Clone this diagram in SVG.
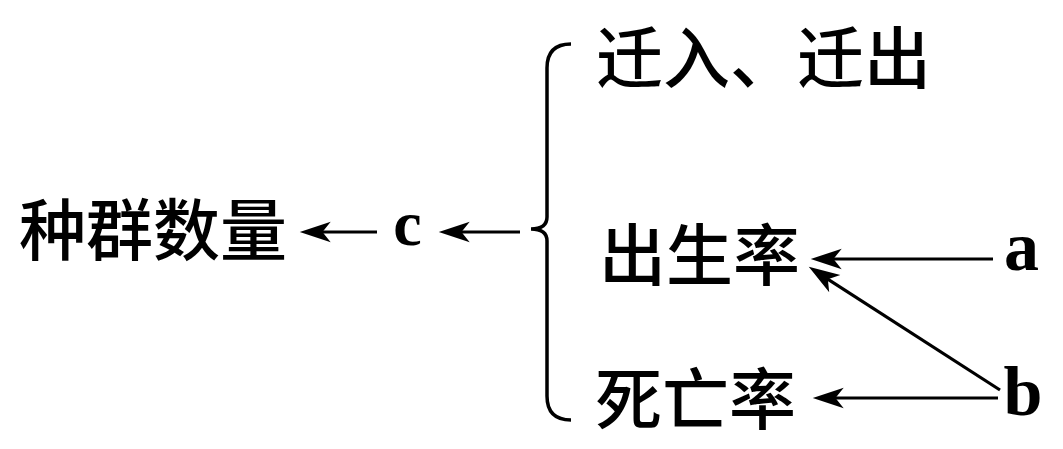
<svg xmlns="http://www.w3.org/2000/svg" width="1063" height="449" viewBox="0 0 1063 449">
  <style>
    .cjk { font-family: "Noto Sans CJK SC", "Noto Sans", sans-serif; font-size: 67px; font-weight: 500; fill: #000; }
    .lat { font-family: "Liberation Serif", "Times New Roman", serif; font-weight: bold; fill: #000; }
    .conn { stroke: #000; stroke-width: 3.2; fill: none; marker-end: url(#arrow); }
  </style>
  <defs>
    <marker id="arrow" markerUnits="userSpaceOnUse" markerWidth="32" markerHeight="24" viewBox="0 -11 31 22" refX="22" refY="0" orient="auto">
      <path d="M0,-10 L30,0 L0,10 L8,0 Z" fill="#000"/>
    </marker>
  </defs>
  <g id="node-population">
    <text class="cjk" x="19" y="255">种群数量</text>
  </g>
  <g id="node-c">
    <text class="lat" x="407.5" y="245" font-size="64" text-anchor="middle">c</text>
  </g>
  <g id="node-brace">
    <path d="M571,44 Q547,44 547,68 L547,217 Q547,229 531,229 Q547,229 547,241 L547,396 Q547,420 571,420" stroke="#000" stroke-width="3.5" fill="none"/>
  </g>
  <g id="node-migration">
    <text class="cjk" x="596" y="83">迁入、迁出</text>
  </g>
  <g id="node-birth">
    <text class="cjk" x="599" y="280">出生率</text>
  </g>
  <g id="node-death">
    <text class="cjk" x="595" y="424">死亡率</text>
  </g>
  <g id="node-a">
    <text class="lat" x="1021.5" y="270" font-size="70" text-anchor="middle">a</text>
  </g>
  <g id="node-b">
    <text class="lat" x="1023" y="415" font-size="70" text-anchor="middle">b</text>
  </g>
  <g id="connectors">
    <line class="conn" x1="377" y1="232" x2="308" y2="232"/>
    <line class="conn" x1="520" y1="232" x2="447" y2="232"/>
    <line class="conn" x1="993" y1="259" x2="819" y2="259"/>
    <line class="conn" x1="1000" y1="390" x2="815.7" y2="271.3"/>
    <line class="conn" x1="998" y1="398" x2="821" y2="398"/>
  </g>
</svg>
